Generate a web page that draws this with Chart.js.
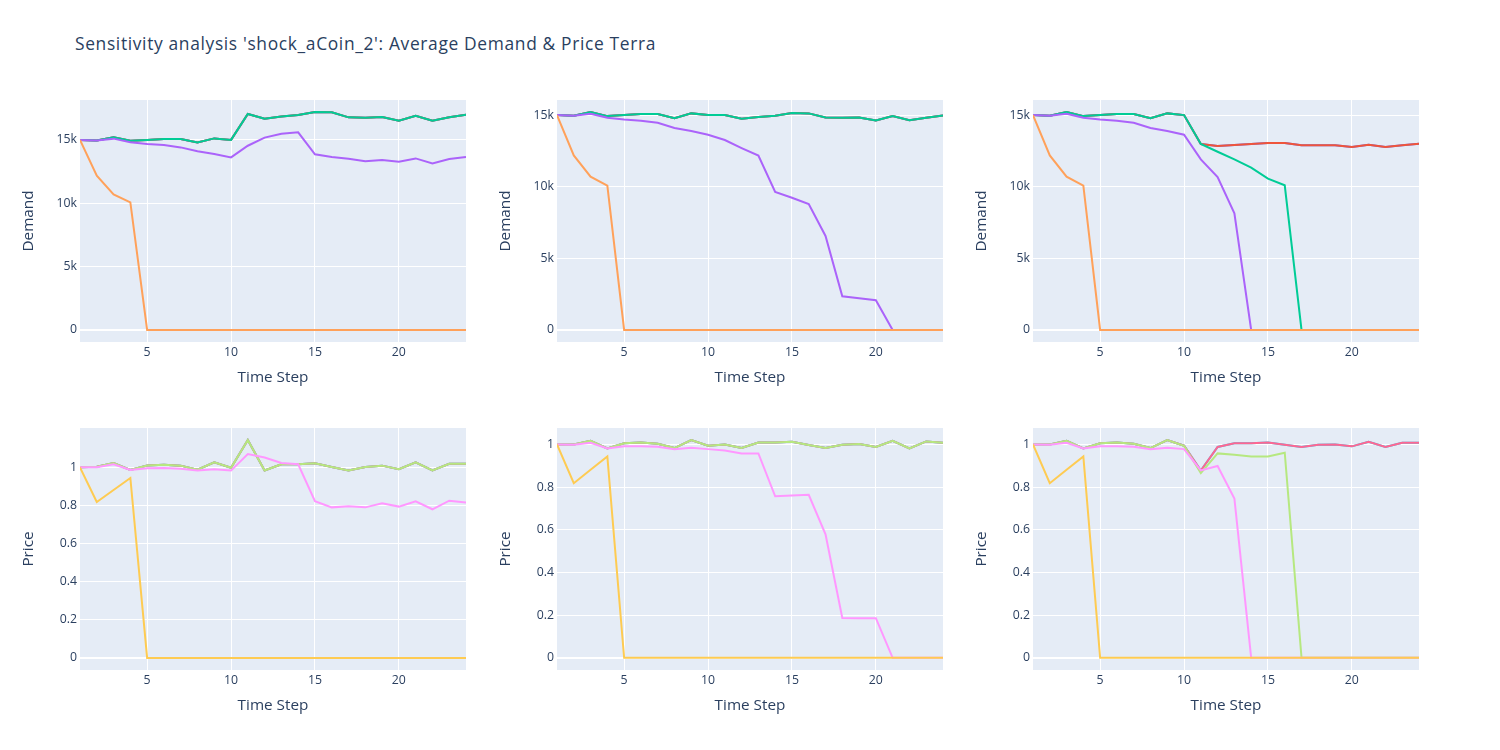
<!DOCTYPE html>
<html>
<head>
<meta charset="utf-8">
<script src="https://cdn.jsdelivr.net/npm/chart.js@4/dist/chart.umd.min.js"></script>
<style>
  body { margin: 0; background: #fff; width: 1500px; height: 750px; position: relative; overflow: hidden; font-family: "Open Sans", Verdana, Arial, sans-serif; }
  #title { position: absolute; left: 75px; top: 35px; font-size: 17.4px; line-height: 17px; letter-spacing: 0.65px; color: #2a3f5f; white-space: nowrap; }
  .cell { position: absolute; }
</style>
</head>
<body>
<div id="title">Sensitivity analysis 'shock_aCoin_2': Average Demand &amp; Price Terra</div>
<div class="cell" id="c1"><canvas id="d1"></canvas></div>
<div class="cell" id="c2"><canvas id="d2"></canvas></div>
<div class="cell" id="c3"><canvas id="d3"></canvas></div>
<div class="cell" id="c4"><canvas id="p1"></canvas></div>
<div class="cell" id="c5"><canvas id="p2"></canvas></div>
<div class="cell" id="c6"><canvas id="p3"></canvas></div>
<script>
const steps = [1, 2, 3, 4, 5, 6, 7, 8, 9, 10, 11, 12, 13, 14, 15, 16, 17, 18, 19, 20, 21, 22, 23, 24];
const stepTicks = [5, 10, 15, 20];
const demandTicks = [0, 5000, 10000, 15000];
const priceTicks = [0, 0.2, 0.4, 0.6, 0.8, 1];

// Demand, column 1
const demandTop1 = [15000, 14960, 15210, 14930, 15000, 15070, 15070, 14790, 15120, 15000, 17050, 16680, 16840, 16970, 17200, 17180, 16780, 16750, 16800, 16520, 16910, 16520, 16780, 16990];
const demandPurple1 = [15000, 14950, 15100, 14810, 14680, 14600, 14410, 14100, 13890, 13620, 14540, 15180, 15490, 15600, 13860, 13650, 13520, 13310, 13410, 13280, 13540, 13150, 13490, 13650];
// Demand, column 2
const demandTop2 = [15000, 14960, 15210, 14930, 15000, 15070, 15070, 14790, 15120, 15000, 15000, 14750, 14860, 14960, 15140, 15120, 14840, 14820, 14840, 14630, 14930, 14650, 14820, 14980];
const demandPurple2 = [15000, 14960, 15100, 14820, 14700, 14610, 14470, 14100, 13890, 13630, 13260, 12700, 12170, 9630, 9230, 8790, 6560, 2350, 2210, 2070, 0, 0, 0, 0];
// Demand, column 3
const demandTop3 = [15000, 14960, 15210, 14930, 15000, 15070, 15070, 14790, 15120, 15000, 12980, 12840, 12910, 12980, 13050, 13050, 12890, 12890, 12890, 12770, 12930, 12770, 12890, 13000];
const demandGreen3 = [15000, 14960, 15210, 14930, 15000, 15070, 15070, 14790, 15120, 15000, 12980, 12440, 11910, 11330, 10560, 10100, 0, 0, 0, 0, 0, 0, 0, 0];
const demandPurple3 = [15000, 14960, 15100, 14820, 14700, 14610, 14470, 14100, 13890, 13630, 11910, 10680, 8140, 0, 0, 0, 0, 0, 0, 0, 0, 0, 0, 0];
// Demand, orange run (same in every column)
const demandOrange = [15000, 12180, 10700, 10070, 0, 0, 0, 0, 0, 0, 0, 0, 0, 0, 0, 0, 0, 0, 0, 0, 0, 0, 0, 0];

// Price, column 1
const priceTop1 = [1.0, 1.003, 1.023, 0.986, 1.01, 1.014, 1.009, 0.988, 1.026, 0.998, 1.143, 0.984, 1.016, 1.016, 1.021, 1.002, 0.983, 1.002, 1.009, 0.99, 1.026, 0.984, 1.019, 1.019];
const pricePink1 = [1.0, 1.0, 1.016, 0.986, 0.995, 0.997, 0.993, 0.983, 0.99, 0.983, 1.07, 1.052, 1.023, 1.016, 0.822, 0.79, 0.796, 0.79, 0.812, 0.794, 0.822, 0.78, 0.825, 0.815];
// Price, column 2
const priceTop2 = [1.0, 1.0, 1.017, 0.981, 1.005, 1.009, 1.003, 0.983, 1.02, 0.994, 1.0, 0.983, 1.009, 1.009, 1.012, 0.997, 0.983, 0.998, 1.002, 0.988, 1.017, 0.981, 1.014, 1.008];
const pricePink2 = [1.0, 0.998, 1.008, 0.981, 0.992, 0.992, 0.989, 0.977, 0.984, 0.978, 0.972, 0.958, 0.958, 0.757, 0.761, 0.764, 0.579, 0.187, 0.186, 0.186, 0, 0, 0, 0];
// Price, column 3
const priceTop3 = [1.0, 1.0, 1.017, 0.981, 1.005, 1.009, 1.003, 0.983, 1.02, 0.994, 0.878, 0.988, 1.005, 1.005, 1.009, 0.998, 0.988, 0.998, 1.0, 0.991, 1.012, 0.988, 1.008, 1.008];
const priceGreen3 = [1.0, 1.0, 1.017, 0.981, 1.005, 1.009, 1.003, 0.983, 1.02, 0.994, 0.866, 0.958, 0.952, 0.944, 0.944, 0.961, 0, 0, 0, 0, 0, 0, 0, 0];
const pricePink3 = [1.0, 0.998, 1.008, 0.981, 0.992, 0.992, 0.989, 0.977, 0.984, 0.978, 0.878, 0.899, 0.747, 0, 0, 0, 0, 0, 0, 0, 0, 0, 0, 0];
// Price, yellow run (same in every column)
const priceYellow = [1.0, 0.818, 0.881, 0.944, 0, 0, 0, 0, 0, 0, 0, 0, 0, 0, 0, 0, 0, 0, 0, 0, 0, 0, 0, 0];

const demandColors = ['#636EFA', '#EF553B', '#00CC96', '#AB63FA', '#FFA15A'];
const priceColors = ['#19D3F3', '#FF6692', '#B6E880', '#FF97FF', '#FECB52'];

const textColor = '#2a3f5f';
const fontFamily = '"Open Sans", Verdana, Arial, sans-serif';

// plot areas (left, top, width, height)
const colLeft = [80, 557, 1033];
const rowTop = [100, 428];
const plotW = 386, plotH = 242;

const bgPlugin = {
  id: 'plotBg',
  beforeDraw(chart) {
    const a = chart.chartArea;
    const ctx = chart.ctx;
    ctx.save();
    ctx.fillStyle = '#E5ECF6';
    ctx.fillRect(a.left, a.top, a.right - a.left, a.bottom - a.top);
    ctx.restore();
  }
};

function makeChart(cellId, canvasId, col, row, series, colors, yTitle, yMin, yMax, yTicks, yFmt) {
  const cell = document.getElementById(cellId);
  cell.style.left = (colLeft[col] - 70) + 'px';
  cell.style.top = (rowTop[row] - 10) + 'px';
  cell.style.width = (plotW + 80) + 'px';
  cell.style.height = (plotH + 60) + 'px';

  // later traces sit on top, like the plotly original
  const datasets = series.map((arr, i) => ({
    data: steps.map((s, j) => ({ x: s, y: arr[j] })),
    borderColor: colors[i],
    backgroundColor: colors[i],
    borderWidth: 2,
    pointRadius: 0,
    tension: 0,
    fill: false,
    order: -i
  }));

  new Chart(document.getElementById(canvasId), {
    type: 'line',
    data: { datasets: datasets },
    plugins: [bgPlugin],
    options: {
      responsive: true,
      maintainAspectRatio: false,
      animation: false,
      layout: { padding: { left: 0, top: 10, right: 10, bottom: 0 } },
      plugins: { legend: { display: false }, tooltip: { enabled: false } },
      scales: {
        x: {
          type: 'linear',
          min: 1,
          max: 24,
          border: { display: false },
          grid: { color: '#ffffff', lineWidth: 1, drawTicks: false },
          ticks: { padding: 3, color: textColor, font: { family: fontFamily, size: 12.3 }, maxRotation: 0 },
          afterBuildTicks(scale) { scale.ticks = stepTicks.map(v => ({ value: v })); },
          title: { display: true, text: 'Time Step', color: textColor, font: { family: fontFamily, size: 15.3 }, padding: { top: 0, bottom: 5 } },
          afterFit(scale) { scale.height = 50; scale.paddingLeft = 0; scale.paddingRight = 0; }
        },
        y: {
          type: 'linear',
          min: yMin,
          max: yMax,
          border: { display: false },
          grid: {
            color: '#ffffff',
            drawTicks: false,
            lineWidth: c => (c.tick && c.tick.value === 0 ? 2 : 1)
          },
          ticks: { padding: 3, color: textColor, font: { family: fontFamily, size: 12.3 }, callback: yFmt },
          afterBuildTicks(scale) { scale.ticks = yTicks.map(v => ({ value: v })); },
          title: { display: true, text: yTitle, color: textColor, font: { family: fontFamily, size: 15.3 }, padding: { top: 9, bottom: 0 } },
          afterFit(scale) { scale.width = 70; scale.paddingTop = 0; scale.paddingBottom = 0; }
        }
      }
    }
  });
}

const kFmt = v => (v === 0 ? '0' : (v / 1000) + 'k');
const numFmt = v => String(Math.round(v * 10) / 10);

makeChart('c1', 'd1', 0, 0, [demandTop1, demandTop1, demandTop1, demandPurple1, demandOrange], demandColors, 'Demand', -950, 18150, demandTicks, kFmt);
makeChart('c2', 'd2', 1, 0, [demandTop2, demandTop2, demandTop2, demandPurple2, demandOrange], demandColors, 'Demand', -845, 16055, demandTicks, kFmt);
makeChart('c3', 'd3', 2, 0, [demandTop3, demandTop3, demandGreen3, demandPurple3, demandOrange], demandColors, 'Demand', -845, 16055, demandTicks, kFmt);
makeChart('c4', 'p1', 0, 1, [priceTop1, priceTop1, priceTop1, pricePink1, priceYellow], priceColors, 'Price', -0.0635, 1.2065, priceTicks, numFmt);
makeChart('c5', 'p2', 1, 1, [priceTop2, priceTop2, priceTop2, pricePink2, priceYellow], priceColors, 'Price', -0.057, 1.077, priceTicks, numFmt);
makeChart('c6', 'p3', 2, 1, [priceTop3, priceTop3, priceGreen3, pricePink3, priceYellow], priceColors, 'Price', -0.057, 1.077, priceTicks, numFmt);
</script>
</body>
</html>
